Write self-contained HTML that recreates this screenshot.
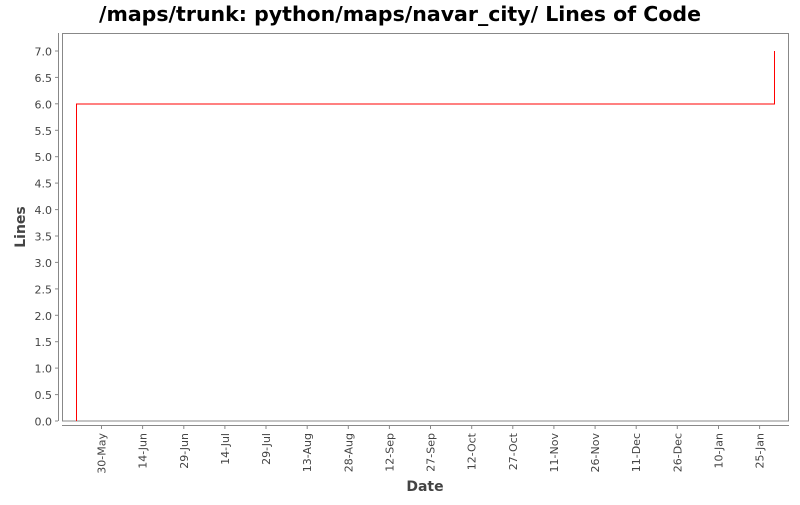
<!DOCTYPE html>
<html><head><meta charset="utf-8"><style>body{margin:0;background:#fff}</style></head>
<body>
<svg width="800" height="500" xmlns="http://www.w3.org/2000/svg" font-family="DejaVu Sans, sans-serif">
<rect width="800" height="500" fill="#fff"/>
<text x="400" y="21" text-anchor="middle" font-size="20.5" font-weight="bold" fill="#000">/maps/trunk: python/maps/navar_city/ Lines of Code</text>
<rect x="62.5" y="33.5" width="726" height="387.5" fill="#fff" stroke="#888" stroke-width="1"/>
<line x1="58.5" y1="33" x2="58.5" y2="421" stroke="#888"/>
<line x1="62" y1="425.5" x2="789" y2="425.5" stroke="#888"/>
<g font-size="11" fill="#444" text-anchor="end">
<text x="52" y="425.5">0.0</text><text x="52" y="399">0.5</text><text x="52" y="372.6">1.0</text><text x="52" y="346.2">1.5</text>
<text x="52" y="319.8">2.0</text><text x="52" y="293.4">2.5</text><text x="52" y="266.9">3.0</text><text x="52" y="240.5">3.5</text>
<text x="52" y="214.1">4.0</text><text x="52" y="187.6">4.5</text><text x="52" y="161.2">5.0</text><text x="52" y="134.8">5.5</text>
<text x="52" y="108.3">6.0</text><text x="52" y="81.9">6.5</text><text x="52" y="55.5">7.0</text>
</g>
<g stroke="#888">
<line x1="55" y1="421" x2="58" y2="421"/><line x1="55" y1="394.6" x2="58" y2="394.6"/><line x1="55" y1="368.1" x2="58" y2="368.1"/><line x1="55" y1="341.7" x2="58" y2="341.7"/><line x1="55" y1="315.3" x2="58" y2="315.3"/><line x1="55" y1="288.9" x2="58" y2="288.9"/><line x1="55" y1="262.4" x2="58" y2="262.4"/><line x1="55" y1="236" x2="58" y2="236"/><line x1="55" y1="209.6" x2="58" y2="209.6"/><line x1="55" y1="183.1" x2="58" y2="183.1"/><line x1="55" y1="156.7" x2="58" y2="156.7"/><line x1="55" y1="130.3" x2="58" y2="130.3"/><line x1="55" y1="103.8" x2="58" y2="103.8"/><line x1="55" y1="77.4" x2="58" y2="77.4"/><line x1="55" y1="51" x2="58" y2="51"/>
</g>
<g stroke="#888">
<line x1="101.5" y1="426" x2="101.5" y2="429"/><line x1="142.6" y1="426" x2="142.6" y2="429"/><line x1="183.8" y1="426" x2="183.8" y2="429"/><line x1="224.9" y1="426" x2="224.9" y2="429"/><line x1="266" y1="426" x2="266" y2="429"/><line x1="307.2" y1="426" x2="307.2" y2="429"/><line x1="348.3" y1="426" x2="348.3" y2="429"/><line x1="389.4" y1="426" x2="389.4" y2="429"/><line x1="430.5" y1="426" x2="430.5" y2="429"/><line x1="471.7" y1="426" x2="471.7" y2="429"/><line x1="512.8" y1="426" x2="512.8" y2="429"/><line x1="553.9" y1="426" x2="553.9" y2="429"/><line x1="595.1" y1="426" x2="595.1" y2="429"/><line x1="636.2" y1="426" x2="636.2" y2="429"/><line x1="677.3" y1="426" x2="677.3" y2="429"/><line x1="718.5" y1="426" x2="718.5" y2="429"/><line x1="759.6" y1="426" x2="759.6" y2="429"/>
</g>
<g font-size="11" fill="#444" text-anchor="end">
<text transform="translate(105.5,433) rotate(-90)">30-May</text>
<text transform="translate(146.6,433) rotate(-90)">14-Jun</text>
<text transform="translate(187.8,433) rotate(-90)">29-Jun</text>
<text transform="translate(228.9,433) rotate(-90)">14-Jul</text>
<text transform="translate(270,433) rotate(-90)">29-Jul</text>
<text transform="translate(311.2,433) rotate(-90)">13-Aug</text>
<text transform="translate(352.3,433) rotate(-90)">28-Aug</text>
<text transform="translate(393.4,433) rotate(-90)">12-Sep</text>
<text transform="translate(434.5,433) rotate(-90)">27-Sep</text>
<text transform="translate(475.7,433) rotate(-90)">12-Oct</text>
<text transform="translate(516.8,433) rotate(-90)">27-Oct</text>
<text transform="translate(557.9,433) rotate(-90)">11-Nov</text>
<text transform="translate(599.1,433) rotate(-90)">26-Nov</text>
<text transform="translate(640.2,433) rotate(-90)">11-Dec</text>
<text transform="translate(681.3,433) rotate(-90)">26-Dec</text>
<text transform="translate(722.5,433) rotate(-90)">10-Jan</text>
<text transform="translate(763.6,433) rotate(-90)">25-Jan</text>
</g>
<polyline points="76.5,421 76.5,104 774.5,104 774.5,51" fill="none" stroke="#f00" stroke-width="1"/>
<text x="425" y="491" text-anchor="middle" font-size="14" font-weight="bold" fill="#444">Date</text>
<text transform="translate(25,227) rotate(-90)" text-anchor="middle" font-size="14" font-weight="bold" fill="#444">Lines</text>
</svg>
</body></html>
